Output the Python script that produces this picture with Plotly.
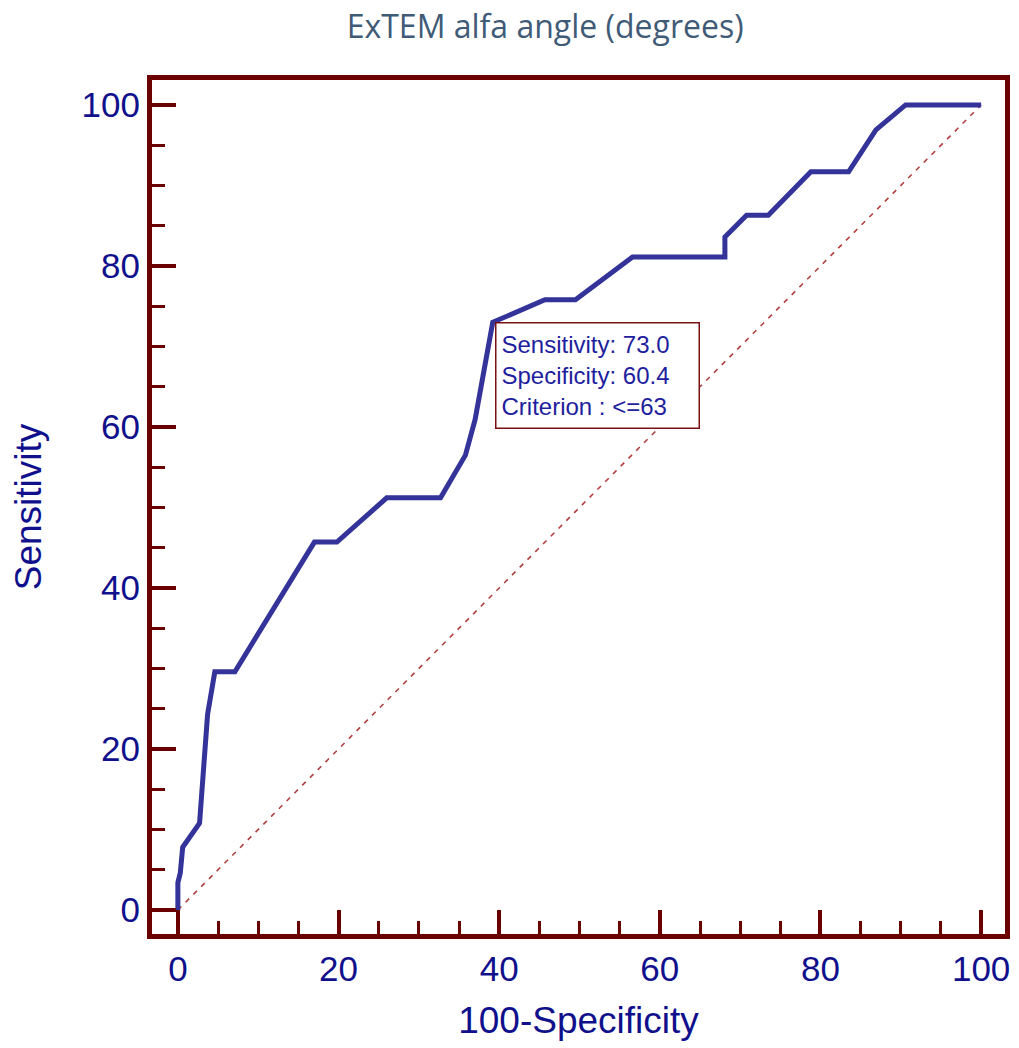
import plotly.graph_objects as go

# ROC curve points
fpr = [0, 0, 0.3, 0.6, 2.7, 2.9, 3.3, 3.7, 4.6, 7.1, 17.0, 19.8, 26.0, 32.7, 35.8, 37.0,
       39.2, 45.7, 49.5, 56.6, 68.1, 68.1, 70.8, 73.5, 78.8, 83.5, 86.9, 90.6, 100]
sens = [0, 3.4, 4.6, 7.8, 10.8, 13.5, 18.9, 24.3, 29.6, 29.6, 45.7, 45.7, 51.2, 51.2, 56.5, 60.9,
        73.0, 75.8, 75.8, 81.1, 81.1, 83.6, 86.3, 86.3, 91.7, 91.7, 96.9, 100, 100]
diag = [0, 100]

cut_x, cut_y = 39.5, 73.0
box_lines = ["Sensitivity: 73.0", "Specificity: 60.4", "Criterion : <=63"]
ticks = [0, 20, 40, 60, 80, 100]

frame = "#6B0000"
navy = "#10108C"

fig = go.Figure()
fig.add_trace(go.Scatter(x=diag, y=diag, mode="lines",
                         line=dict(color="#B04040", width=1.6, dash="5px,6px"),
                         hoverinfo="skip", showlegend=False))
fig.add_trace(go.Scatter(x=fpr, y=sens, mode="lines",
                         line=dict(color="#333399", width=5),
                         showlegend=False))

fig.add_annotation(x=cut_x, y=cut_y, xref="x", yref="y", xanchor="left", yanchor="top",
                   text="<br>".join(box_lines), showarrow=False, align="left",
                   width=192, height=94,
                   font=dict(family="Liberation Sans", size=24, color="#1E1E9E"),
                   bordercolor="#7A1010", borderwidth=1.5, borderpad=5, bgcolor="white")

axis_common = dict(
    showgrid=False, zeroline=False, showline=True, linecolor=frame, linewidth=5, mirror=True,
    ticks="inside", ticklen=24, tickwidth=4, tickcolor=frame,
    tickvals=ticks, ticktext=[str(t) for t in ticks],
    tickfont=dict(family="Liberation Sans", size=35, color=navy),
    minor=dict(ticks="inside", dtick=5, ticklen=13, tickwidth=3, tickcolor=frame),
)

fig.update_layout(
    width=1019, height=1048,
    margin=dict(l=152, r=9, t=80, b=114),
    paper_bgcolor="white", plot_bgcolor="white",
    title=dict(text="ExTEM alfa angle (degrees)", x=0.535, xanchor="center", y=0.974, yanchor="middle",
               font=dict(family="Open Sans", size=32, color="#3F5B77")),
    xaxis=dict(range=[-3.22, 102.97], title=dict(text="100-Specificity", standoff=22,
               font=dict(family="Liberation Sans", size=37, color=navy)), **axis_common),
    yaxis=dict(range=[-2.98, 103.1], title=dict(text="Sensitivity", standoff=30,
               font=dict(family="Liberation Sans", size=37, color=navy)), **axis_common),
)

fig.write_html("out.html", config={"displayModeBar": False},
               post_script="document.body.style.margin='0';")
